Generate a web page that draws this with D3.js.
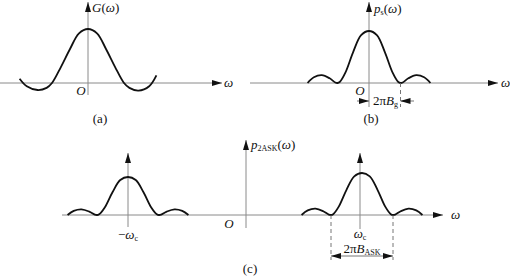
<!DOCTYPE html>
<html lang="en">
<head>
<meta charset="UTF-8">
<title>2ASK spectrum</title>
<script src="https://d3js.org/d3.v7.min.js"></script>
<style>
  body { margin: 0; background: #fff; }
  svg { display: block; }
  text { font-family: "Liberation Serif", "DejaVu Serif", "Times New Roman", serif; font-size: 13px; fill: #111; }
  .it { font-style: italic; }
  .axis { stroke: #8a8a8a; stroke-width: 1; fill: none; }
  .curve { stroke: #111; stroke-width: 1.8; fill: none; }
  .dash { stroke: #666; stroke-width: 0.9; stroke-dasharray: 4 3; fill: none; }
  .dim { stroke: #777; stroke-width: 1; fill: none; }
</style>
</head>
<body>
<svg id="chart" width="510" height="279"></svg>
<script>
// baseband signal spectrum G(w), u = w / first zero
const uG = [-1.9, -1.7, -1.4, -1.15, -1, -0.75, -0.5, -0.25, 0, 0.25, 0.5, 0.75, 1, 1.15, 1.4, 1.7, 1.9];
const vG = [0.08, -0.06, -0.13, -0.09, 0, 0.3, 0.63, 0.92, 1, 0.92, 0.63, 0.3, 0, -0.09, -0.14, -0.06, 0.14];

// power spectrum shape (used for Ps and both 2ASK lobes)
const uP = [-1.95, -1.75, -1.5, -1.25, -1.07, -1, -0.93, -0.75, -0.5, -0.25, 0, 0.25, 0.5, 0.75, 0.93, 1, 1.07, 1.25, 1.5, 1.75, 1.95];
const vP = [0, 0.11, 0.15, 0.09, 0.01, 0, 0.02, 0.2, 0.6, 0.92, 1, 0.92, 0.6, 0.2, 0.02, 0, 0.01, 0.09, 0.15, 0.11, 0];

const panelLabels = ["(a)", "(b)", "(c)"];

const svg = d3.select("#chart");

const defs = svg.append("defs");
defs.append("marker").attr("id", "arr")
  .attr("viewBox", "0 0 10 6").attr("refX", 10).attr("refY", 3)
  .attr("markerWidth", 10).attr("markerHeight", 6)
  .attr("markerUnits", "userSpaceOnUse").attr("orient", "auto-start-reverse")
  .append("path").attr("d", "M0,0 L10,3 L0,6 Z").attr("fill", "#111");

function line(x1, y1, x2, y2, cls, arrow) {
  const l = svg.append("line").attr("x1", x1).attr("y1", y1).attr("x2", x2).attr("y2", y2).attr("class", cls);
  if (arrow) l.attr("marker-end", "url(#arr)");
  return l;
}

function curve(us, vs, cx, half, y0, peak) {
  const x = d3.scaleLinear().domain([-1, 1]).range([cx - half, cx + half]);
  const y = d3.scaleLinear().domain([0, 1]).range([y0, peak]);
  const pts = us.map((u, i) => [u, vs[i]]);
  svg.append("path").attr("class", "curve")
    .attr("d", d3.line().x(d => x(d[0])).y(d => y(d[1])).curve(d3.curveCatmullRom.alpha(0.5))(pts));
  return x;
}

function txt(x, y, anchor) {
  return svg.append("text").attr("x", x).attr("y", y).attr("text-anchor", anchor || "start");
}

function sub(t, s) {
  t.append("tspan").attr("font-size", 8).attr("dy", 2).text(s);
}

// ---------- (a) ----------
line(0, 83, 222, 83, "axis", true);
line(88, 95, 88, 2, "axis", true);
curve(uG, vG, 88, 36, 83, 29);
let t = txt(92, 12); t.append("tspan").attr("class", "it").text("G");
t.append("tspan").text("("); t.append("tspan").attr("class", "it").text("ω"); t.append("tspan").text(")");
txt(81, 95, "middle").attr("class", "it").text("O");
txt(224, 87).attr("class", "it").text("ω");
txt(100, 123, "middle").text(panelLabels[0]);

// ---------- (b) ----------
line(250, 83, 498, 83, "axis", true);
line(369, 107, 369, 2, "axis", true);
const xb = curve(uP, vP, 369, 31.5, 83, 31);
line(xb(1), 83, xb(1), 107, "dash");
line(357, 101, 369, 101, "dim", true);
line(414, 101, xb(1), 101, "dim", true);
t = txt(374, 13); t.append("tspan").attr("class", "it").text("p");
sub(t, "s");
t.append("tspan").attr("dy", -2).text("("); t.append("tspan").attr("class", "it").text("ω"); t.append("tspan").text(")");
txt(360, 95, "middle").attr("class", "it").text("O");
t = txt(373, 105); t.append("tspan").text("2π"); t.append("tspan").attr("class", "it").text("B");
sub(t, "g");
txt(501, 87).attr("class", "it").text("ω");
txt(371, 123, "middle").text(panelLabels[1]);

// ---------- (c) ----------
line(62, 215, 443, 215, "axis", true);
line(246, 228, 246, 140, "axis", true);
line(128, 227, 128, 153, "axis", true);
line(360, 229, 360, 153, "axis", true);
curve(uP, vP, 128, 31, 215, 177);
const xc = curve(uP, vP, 362, 31, 215, 173);
line(xc(-1), 215, xc(-1), 260, "dash");
line(xc(1), 215, xc(1), 260, "dash");
line(xc(-1) + 16, 256, xc(-1), 256, "dim", true);
line(xc(-1) + 16, 256, xc(1), 256, "dim", true);
t = txt(251, 149); t.append("tspan").attr("class", "it").text("p");
sub(t, "2ASK");
t.append("tspan").attr("dy", -2).text("("); t.append("tspan").attr("class", "it").text("ω"); t.append("tspan").text(")");
txt(229, 228, "middle").attr("class", "it").text("O");
t = txt(128, 239, "middle"); t.append("tspan").text("−"); t.append("tspan").attr("class", "it").text("ω");
sub(t, "c");
t = txt(360, 238, "middle"); t.append("tspan").attr("class", "it").text("ω");
sub(t, "c");
t = txt(362, 253, "middle").attr("font-size", 12); t.append("tspan").text("2π"); t.append("tspan").attr("class", "it").text("B");
sub(t, "ASK");
txt(451, 219).attr("class", "it").text("ω");
txt(250, 273, "middle").text(panelLabels[2]);
</script>
</body>
</html>
